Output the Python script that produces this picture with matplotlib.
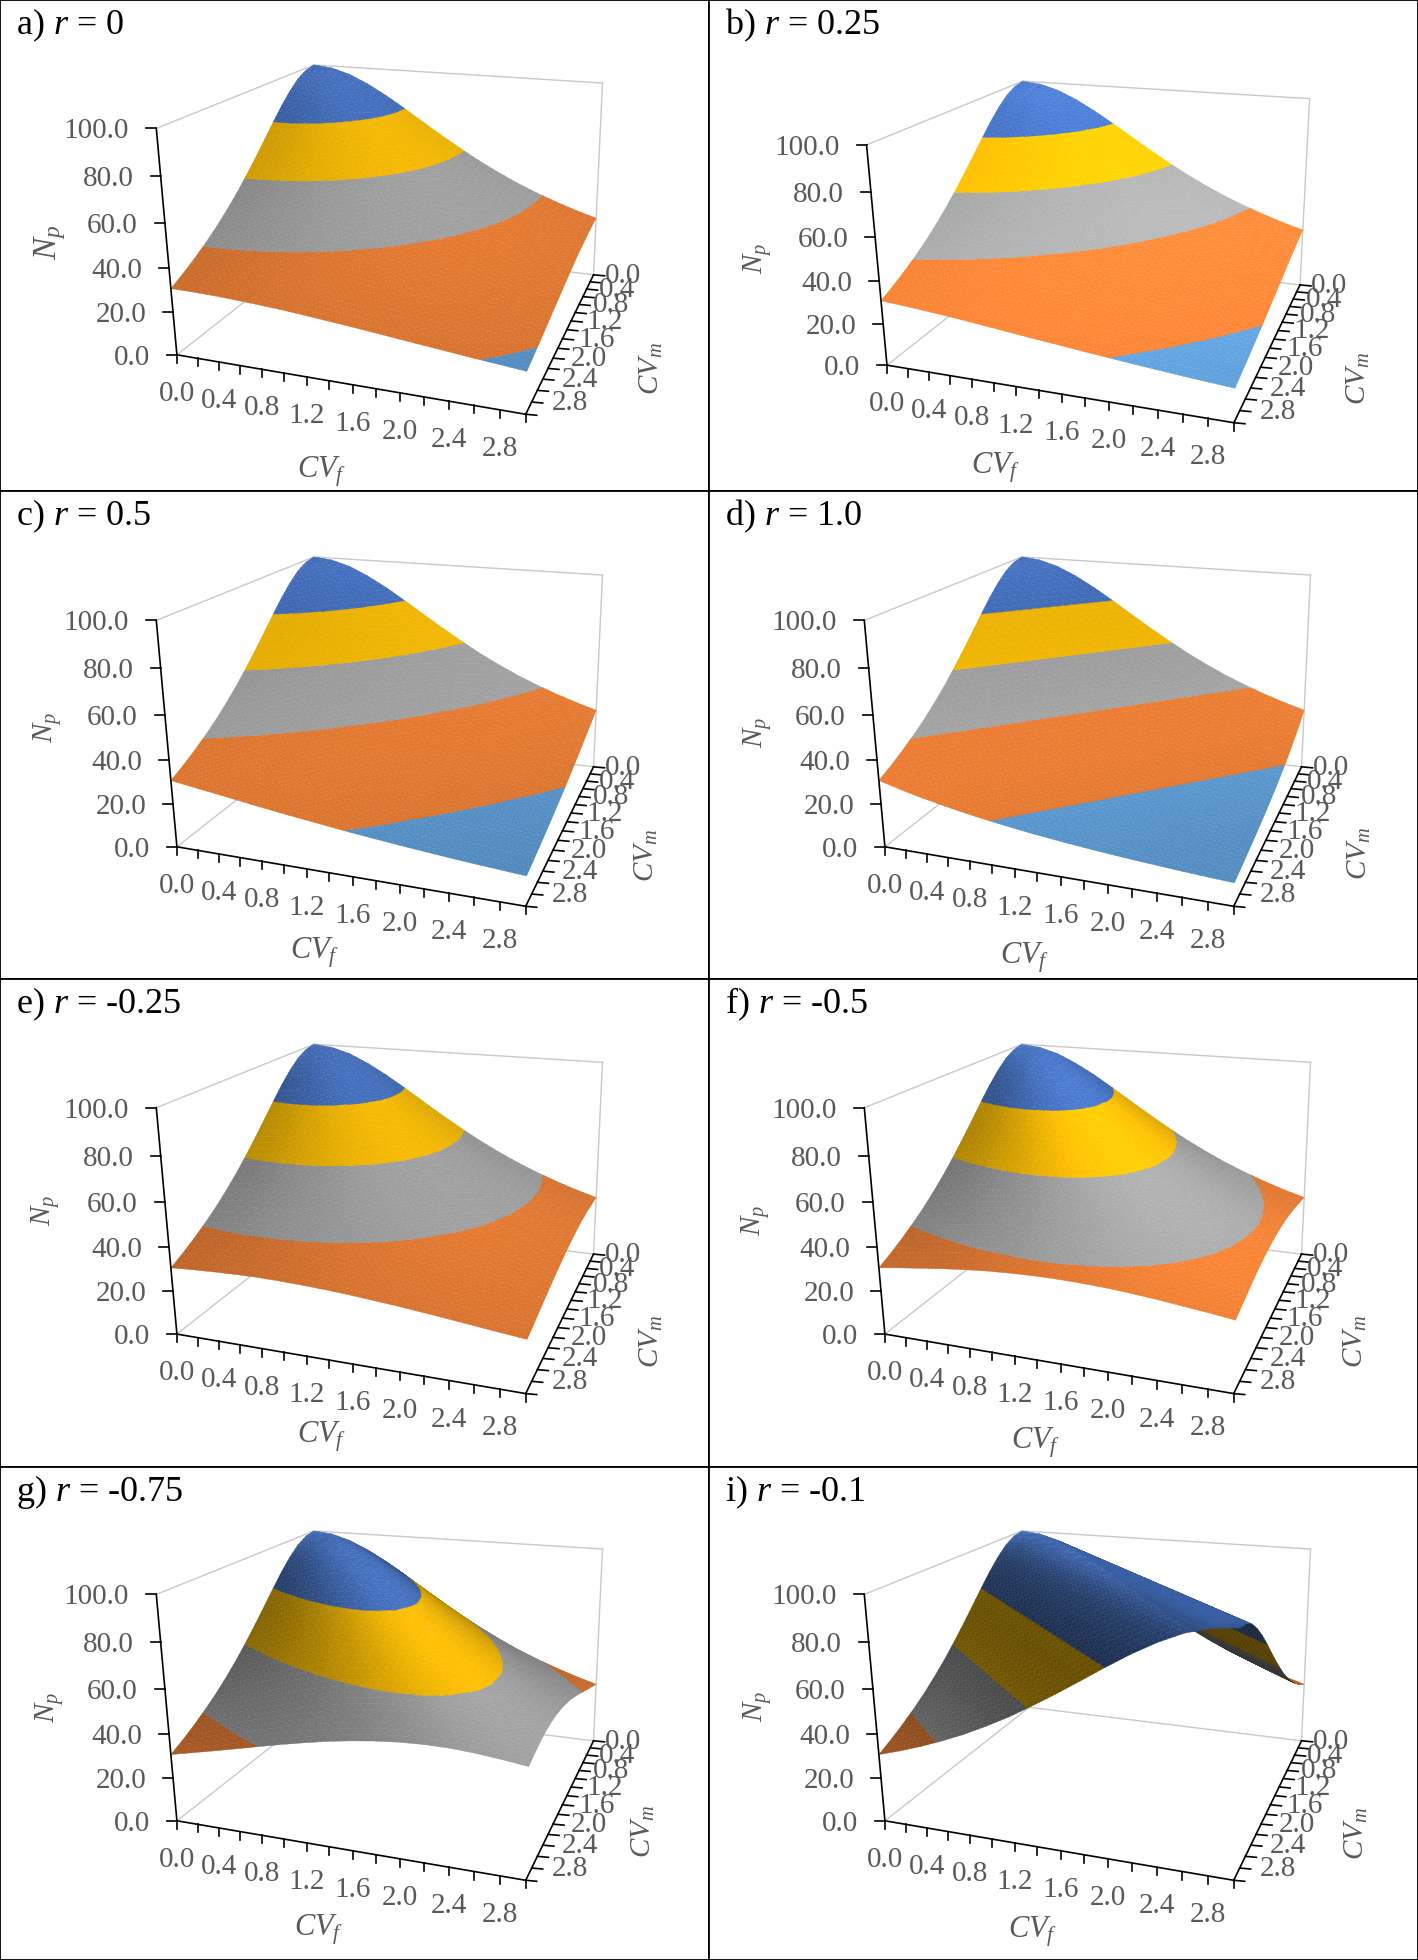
import matplotlib
matplotlib.use("Agg")
import matplotlib.pyplot as plt  # plotting
from matplotlib.collections import PolyCollection
import numpy as np  # for the linear algebra

plt.rcParams['font.family'] = ['Liberation Serif', 'DejaVu Serif']
plt.rcParams['mathtext.fontset'] = 'custom'
plt.rcParams['mathtext.rm'] = 'Liberation Serif'
plt.rcParams['mathtext.it'] = 'Liberation Serif:italic'

#  ---------------------  Data  --------------------------
CV_VALUES = [0.0, 0.2, 0.4, 0.6, 0.8, 1.0, 1.2, 1.4, 1.6, 1.8, 2.0, 2.2, 2.4, 2.6, 2.8, 3.0]
CV_LABELS = ["0.0", "0.4", "0.8", "1.2", "1.6", "2.0", "2.4", "2.8"]
NP_TICKS = [0, 20, 40, 60, 80, 100]
NP_LABELS = ["0.0", "20.0", "40.0", "60.0", "80.0", "100.0"]
BAND_LEVELS = [0, 20, 40, 60, 80, 100]
BAND_COLORS = ["#5B9BD5", "#ED7D31", "#A5A5A5", "#FFC000", "#4472C4"]

# surfaces are symmetric in CVf and CVm, so each row only runs from the diagonal on
NP_A = [
    [100, 99.0, 96.2, 91.7, 86.2, 80.0, 73.5, 67.1, 61.0, 55.2, 50.0, 45.2, 41.0, 37.2, 33.8, 30.8],
    [98.0, 95.2, 90.9, 85.5, 79.4, 73.0, 66.7, 60.6, 54.9, 49.8, 45.0, 40.8, 37.0, 33.7, 30.7],
    [92.6, 88.5, 83.3, 77.5, 71.4, 65.4, 59.5, 54.1, 49.0, 44.4, 40.3, 36.6, 33.3, 30.4],
    [84.7, 80.0, 74.6, 69.0, 63.3, 57.8, 52.6, 47.8, 43.5, 39.5, 36.0, 32.8, 29.9],
    [75.8, 70.9, 65.8, 60.6, 55.6, 50.8, 46.3, 42.2, 38.5, 35.1, 32.1, 29.3],
    [66.7, 62.1, 57.5, 52.9, 48.5, 44.4, 40.7, 37.2, 34.0, 31.2, 28.6],
    [58.1, 54.1, 50.0, 46.1, 42.4, 38.9, 35.7, 32.8, 30.1, 27.7],
    [50.5, 46.9, 43.5, 40.2, 37.0, 34.1, 31.4, 29.0, 26.7],
    [43.9, 40.8, 37.9, 35.1, 32.5, 30.0, 27.8, 25.7],
    [38.2, 35.6, 33.1, 30.8, 28.6, 26.5, 24.6],
    [33.3, 31.2, 29.1, 27.1, 25.3, 23.5],
    [29.2, 27.4, 25.6, 24.0, 22.4],
    [25.8, 24.2, 22.7, 21.3],
    [22.8, 21.5, 20.2],
    [20.3, 19.2],
    [18.2],
]
NP_B = [
    [100, 99.0, 96.2, 91.7, 86.2, 80.0, 73.5, 67.1, 61.0, 55.2, 50.0, 45.2, 41.0, 37.2, 33.8, 30.8],
    [97.6, 94.3, 89.7, 84.0, 77.8, 71.4, 65.1, 59.2, 53.6, 48.5, 44.0, 39.8, 36.2, 32.9, 30.0],
    [90.9, 86.2, 80.6, 74.6, 68.5, 62.5, 56.8, 51.5, 46.7, 42.4, 38.5, 35.0, 31.8, 29.1],
    [81.6, 76.3, 70.7, 64.9, 59.3, 54.1, 49.1, 44.6, 40.6, 36.9, 33.6, 30.7, 28.1],
    [71.4, 66.2, 61.0, 55.9, 51.0, 46.5, 42.4, 38.6, 35.2, 32.2, 29.4, 27.0],
    [61.5, 56.8, 52.2, 47.8, 43.8, 40.0, 36.6, 33.4, 30.6, 28.1, 25.8],
    [52.6, 48.5, 44.6, 41.0, 37.6, 34.5, 31.6, 29.1, 26.7, 24.6],
    [44.9, 41.5, 38.2, 35.2, 32.4, 29.9, 27.5, 25.4, 23.4],
    [38.5, 35.6, 32.9, 30.4, 28.1, 26.0, 24.0, 22.3],
    [33.1, 30.7, 28.4, 26.4, 24.5, 22.7, 21.1],
    [28.6, 26.6, 24.8, 23.0, 21.5, 20.0],
    [24.8, 23.2, 21.7, 20.2, 18.9],
    [21.7, 20.4, 19.1, 17.9],
    [19.1, 18.0, 16.9],
    [16.9, 16.0],
    [15.1],
]
NP_C = [
    [100, 99.0, 96.2, 91.7, 86.2, 80.0, 73.5, 67.1, 61.0, 55.2, 50.0, 45.2, 41.0, 37.2, 33.8, 30.8],
    [97.1, 93.5, 88.5, 82.6, 76.3, 69.9, 63.7, 57.8, 52.4, 47.4, 42.9, 38.9, 35.3, 32.2, 29.3],
    [89.3, 84.0, 78.1, 71.9, 65.8, 59.9, 54.3, 49.3, 44.6, 40.5, 36.8, 33.4, 30.5, 27.9],
    [78.7, 73.0, 67.1, 61.3, 55.9, 50.8, 46.1, 41.8, 38.0, 34.6, 31.5, 28.8, 26.4],
    [67.6, 62.1, 56.8, 51.8, 47.2, 42.9, 39.1, 35.6, 32.5, 29.7, 27.2, 24.9],
    [57.1, 52.4, 47.8, 43.7, 39.8, 36.4, 33.2, 30.4, 27.9, 25.6, 23.5],
    [48.1, 44.1, 40.3, 36.9, 33.8, 31.0, 28.4, 26.1, 24.0, 22.2],
    [40.5, 37.2, 34.1, 31.3, 28.8, 26.5, 24.4, 22.6, 20.9],
    [34.2, 31.5, 29.1, 26.8, 24.8, 22.9, 21.2, 19.6],
    [29.2, 27.0, 24.9, 23.1, 21.4, 19.9, 18.5],
    [25.0, 23.2, 21.6, 20.0, 18.7, 17.4],
    [21.6, 20.1, 18.8, 17.5, 16.4],
    [18.8, 17.6, 16.4, 15.4],
    [16.5, 15.5, 14.5],
    [14.5, 13.7],
    [12.9],
]
NP_D = [
    [100, 99.0, 96.2, 91.7, 86.2, 80.0, 73.5, 67.1, 61.0, 55.2, 50.0, 45.2, 41.0, 37.2, 33.8, 30.8],
    [96.2, 91.7, 86.2, 80.0, 73.5, 67.1, 61.0, 55.2, 50.0, 45.2, 41.0, 37.2, 33.8, 30.8, 28.1],
    [86.2, 80.0, 73.5, 67.1, 61.0, 55.2, 50.0, 45.2, 41.0, 37.2, 33.8, 30.8, 28.1, 25.7],
    [73.5, 67.1, 61.0, 55.2, 50.0, 45.2, 41.0, 37.2, 33.8, 30.8, 28.1, 25.7, 23.6],
    [61.0, 55.2, 50.0, 45.2, 41.0, 37.2, 33.8, 30.8, 28.1, 25.7, 23.6, 21.7],
    [50.0, 45.2, 41.0, 37.2, 33.8, 30.8, 28.1, 25.7, 23.6, 21.7, 20.0],
    [41.0, 37.2, 33.8, 30.8, 28.1, 25.7, 23.6, 21.7, 20.0, 18.5],
    [33.8, 30.8, 28.1, 25.7, 23.6, 21.7, 20.0, 18.5, 17.1],
    [28.1, 25.7, 23.6, 21.7, 20.0, 18.5, 17.1, 15.9],
    [23.6, 21.7, 20.0, 18.5, 17.1, 15.9, 14.8],
    [20.0, 18.5, 17.1, 15.9, 14.8, 13.8],
    [17.1, 15.9, 14.8, 13.8, 12.9],
    [14.8, 13.8, 12.9, 12.1],
    [12.9, 12.1, 11.3],
    [11.3, 10.6],
    [10.0],
]
NP_E = [
    [100, 99.0, 96.2, 91.7, 86.2, 80.0, 73.5, 67.1, 61.0, 55.2, 50.0, 45.2, 41.0, 37.2, 33.8, 30.8],
    [98.5, 96.2, 92.2, 87.0, 81.0, 74.6, 68.3, 62.1, 56.3, 51.0, 46.2, 41.8, 38.0, 34.5, 31.4],
    [94.3, 90.9, 86.2, 80.6, 74.6, 68.5, 62.5, 56.8, 51.5, 46.7, 42.4, 38.5, 35.0, 31.8],
    [88.1, 84.0, 79.1, 73.5, 67.8, 62.1, 56.7, 51.5, 46.8, 42.6, 38.7, 35.2, 32.1],
    [80.6, 76.3, 71.4, 66.2, 61.0, 55.9, 51.0, 46.5, 42.4, 38.6, 35.2, 32.2],
    [72.7, 68.5, 63.9, 59.2, 54.5, 50.0, 45.8, 41.8, 38.2, 35.0, 32.0],
    [64.9, 61.0, 56.8, 52.6, 48.5, 44.6, 41.0, 37.6, 34.5, 31.6],
    [57.6, 54.1, 50.4, 46.7, 43.2, 39.8, 36.7, 33.8, 31.1],
    [51.0, 47.8, 44.6, 41.5, 38.5, 35.6, 32.9, 30.4],
    [45.1, 42.4, 39.6, 36.9, 34.3, 31.8, 29.5],
    [40.0, 37.6, 35.2, 32.9, 30.7, 28.6],
    [35.5, 33.4, 31.4, 29.4, 27.5],
    [31.6, 29.9, 28.1, 26.4],
    [28.3, 26.7, 25.2],
    [25.4, 24.0],
    [22.9],
]
NP_F = [
    [100, 99.0, 96.2, 91.7, 86.2, 80.0, 73.5, 67.1, 61.0, 55.2, 50.0, 45.2, 41.0, 37.2, 33.8, 30.8],
    [99.0, 97.1, 93.5, 88.5, 82.6, 76.3, 69.9, 63.7, 57.8, 52.4, 47.4, 42.9, 38.9, 35.3, 32.2],
    [96.2, 93.5, 89.3, 84.0, 78.1, 71.9, 65.8, 59.9, 54.3, 49.3, 44.6, 40.5, 36.8, 33.4],
    [91.7, 88.5, 84.0, 78.7, 73.0, 67.1, 61.3, 55.9, 50.8, 46.1, 41.8, 38.0, 34.6],
    [86.2, 82.6, 78.1, 73.0, 67.6, 62.1, 56.8, 51.8, 47.2, 42.9, 39.1, 35.6],
    [80.0, 76.3, 71.9, 67.1, 62.1, 57.1, 52.4, 47.8, 43.7, 39.8, 36.4],
    [73.5, 69.9, 65.8, 61.3, 56.8, 52.4, 48.1, 44.1, 40.3, 36.9],
    [67.1, 63.7, 59.9, 55.9, 51.8, 47.8, 44.1, 40.5, 37.2],
    [61.0, 57.8, 54.3, 50.8, 47.2, 43.7, 40.3, 37.2],
    [55.2, 52.4, 49.3, 46.1, 42.9, 39.8, 36.9],
    [50.0, 47.4, 44.6, 41.8, 39.1, 36.4],
    [45.2, 42.9, 40.5, 38.0, 35.6],
    [41.0, 38.9, 36.8, 34.6],
    [37.2, 35.3, 33.4],
    [33.8, 32.2],
    [30.8],
]
NP_G = [
    [100, 99.0, 96.2, 91.7, 86.2, 80.0, 73.5, 67.1, 61.0, 55.2, 50.0, 45.2, 41.0, 37.2, 33.8, 30.8],
    [99.5, 98.0, 94.8, 90.1, 84.4, 78.1, 71.7, 65.4, 59.3, 53.8, 48.7, 44.1, 39.9, 36.2, 33.0],
    [98.0, 96.2, 92.6, 87.7, 82.0, 75.8, 69.4, 63.3, 57.5, 52.1, 47.2, 42.7, 38.8, 35.2],
    [95.7, 93.5, 89.7, 84.7, 79.1, 73.0, 66.9, 61.0, 55.4, 50.3, 45.6, 41.3, 37.5],
    [92.6, 90.1, 86.2, 81.3, 75.8, 69.9, 64.1, 58.5, 53.2, 48.3, 43.9, 39.8],
    [88.9, 86.2, 82.3, 77.5, 72.2, 66.7, 61.2, 55.9, 50.9, 46.3, 42.1],
    [84.7, 82.0, 78.1, 73.5, 68.5, 63.3, 58.1, 53.2, 48.5, 44.2],
    [80.3, 77.5, 73.8, 69.4, 64.7, 59.9, 55.1, 50.5, 46.2],
    [75.8, 73.0, 69.4, 65.4, 61.0, 56.5, 52.1, 47.8],
    [71.2, 68.5, 65.1, 61.3, 57.3, 53.2, 49.1],
    [66.7, 64.1, 61.0, 57.5, 53.8, 50.0],
    [62.3, 59.9, 57.0, 53.8, 50.4],
    [58.1, 55.9, 53.2, 50.3],
    [54.2, 52.1, 49.6],
    [50.5, 48.5],
    [47.1],
]
NP_I = [
    [100, 99.0, 96.2, 91.7, 86.2, 80.0, 73.5, 67.1, 61.0, 55.2, 50.0, 45.2, 41.0, 37.2, 33.8, 30.8],
    [100, 99.0, 96.2, 91.7, 86.2, 80.0, 73.5, 67.1, 61.0, 55.2, 50.0, 45.2, 41.0, 37.2, 33.8],
    [100, 99.0, 96.2, 91.7, 86.2, 80.0, 73.5, 67.1, 61.0, 55.2, 50.0, 45.2, 41.0, 37.2],
    [100, 99.0, 96.2, 91.7, 86.2, 80.0, 73.5, 67.1, 61.0, 55.2, 50.0, 45.2, 41.0],
    [100, 99.0, 96.2, 91.7, 86.2, 80.0, 73.5, 67.1, 61.0, 55.2, 50.0, 45.2],
    [100, 99.0, 96.2, 91.7, 86.2, 80.0, 73.5, 67.1, 61.0, 55.2, 50.0],
    [100, 99.0, 96.2, 91.7, 86.2, 80.0, 73.5, 67.1, 61.0, 55.2],
    [100, 99.0, 96.2, 91.7, 86.2, 80.0, 73.5, 67.1, 61.0],
    [100, 99.0, 96.2, 91.7, 86.2, 80.0, 73.5, 67.1],
    [100, 99.0, 96.2, 91.7, 86.2, 80.0, 73.5],
    [100, 99.0, 96.2, 91.7, 86.2, 80.0],
    [100, 99.0, 96.2, 91.7, 86.2],
    [100, 99.0, 96.2, 91.7],
    [100, 99.0, 96.2],
    [100, 99.0],
    [100],
]

#  ---------------------  Layout  --------------------------
COL_EDGES = [0, 709, 1418]
ROW_EDGES = [0, 491.5, 979.5, 1467, 1960]

# box corners as (CVf, CVm, Np) and where they land, measured on panel a / panel b
BOX_POINTS = [(0, 3, 0), (0, 3, 100), (0, 0, 100), (3, 0, 100), (3, 0, 0), (3, 3, 0), (0, 0, 0)]
PX_SCALE = np.array([2.208, 3.0])  # the crops these were read from were 2.208 x 3 times size
BOX_PX = np.array([(385, 1060), (350, 388), (688, 192), (1332, 250), (1308, 822), (1162, 1245), (715, 728)]) / PX_SCALE
BOX_PX_B = np.array([(390, 1090), (355, 437), (690, 240), (1330, 298), (1305, 850), (1162, 1272), (716, 764)]) / PX_SCALE

PANELS = [
    # title, values, column, row, y offset of box, brightness, Np xy and size, CVf xy, CVm xy
    ("a) $r$ = 0", NP_A, 0, 0, 0, 0.93, (50, 242), 24, (322, 472), (651, 368)),
    ("b) $r$ = 0.25", NP_B, 1, 0, 0, 1.08, (757, 258), 21, (996, 468), (1358, 378)),
    ("c) $r$ = 0.5", NP_C, 0, 1, 492, 0.93, (47.5, 727), 21, (315, 953), (646, 855)),
    ("d) $r$ = 1.0", NP_D, 1, 1, 492, 0.96, (758, 732), 21, (1025, 958), (1359, 853)),
    ("e) $r$ = -0.25", NP_E, 0, 2, 979.3, 0.93, (46, 1210), 21, (322, 1437), (651, 1341)),
    ("f) $r$ = -0.5", NP_F, 1, 2, 979.3, 1.03, (755.5, 1220), 21, (1036, 1443), (1355, 1341)),
    ("g) $r$ = -0.75", NP_G, 0, 3, 1466, 0.97, (49, 1707), 21, (319, 1930), (643, 1831)),
    ("i) $r$ = -0.1", NP_I, 1, 3, 1466, 1.02, (758, 1706), 21, (1033, 1932), (1356, 1833)),
]

TICK_COLOR = "#595959"
BOX_COLOR = "#C9C9C9"
SUBDIV = 3  # shading pieces per triangle edge


def fitProjection(points, pixels):
    # direct linear transform from the box corners to the image
    rows = []
    for (x, y, z), (u, v) in zip(points, pixels):
        p = [x / 3, y / 3, z / 100, 1]
        rows.append(p + [0, 0, 0, 0] + [-u / 500 * c for c in p])
        rows.append([0, 0, 0, 0] + p + [-v / 500 * c for c in p])
    _, _, vt = np.linalg.svd(np.array(rows))
    proj = vt[-1].reshape(3, 4)
    proj[:2] *= 500
    return proj


def project(proj, xyz):
    xyz = np.atleast_2d(np.array(xyz, dtype=float))
    h = np.column_stack([xyz[:, 0] / 3, xyz[:, 1] / 3, xyz[:, 2] / 100, np.ones(len(xyz))])
    uvw = h @ proj.T
    return uvw[:, :2] / uvw[:, 2:]


def fullGrid(rows):
    grid = np.zeros((16, 16))
    for i, row in enumerate(rows):
        grid[i, i:] = row
        grid[i:, i] = row
    return grid


def clipLevel(poly, level, keepAbove):
    out = []
    for k in range(len(poly)):
        p, q = poly[k], poly[(k + 1) % len(poly)]
        pIn = p[2] >= level if keepAbove else p[2] <= level
        qIn = q[2] >= level if keepAbove else q[2] <= level
        if pIn:
            out.append(p)
        if pIn != qIn:
            t = (level - p[2]) / (q[2] - p[2])
            out.append(p + t * (q - p))
    return out


def signedArea(pts):
    x, y = pts[:, 0], pts[:, 1]
    return 0.5 * np.sum(x * np.roll(y, -1) - np.roll(x, -1) * y)


def vertexShades(grid, gain):
    # lighting of the surface at each grid point, box scaled to a unit cube
    dzA, dzB = np.gradient(grid / 100, 1 / 15)
    norm = np.sqrt(dzA ** 2 + dzB ** 2 + 1)
    shade = (0.87 - 0.5 * dzA - 0.3 * dzB) / norm
    return np.clip(shade, 0.3, 1.3) * gain


def isBackFacing(proj, tri):
    flat = tri.copy()
    flat[:, 2] = 0
    return signedArea(project(proj, tri)) * signedArea(project(proj, flat)) < 0


def subTriangles(tri, shades):
    # same flat triangle, cut up only so that the shade can vary smoothly over it
    pieces = []
    n = SUBDIV
    w = lambda i, j: np.array([i, j, n - i - j]) / n
    for i in range(n):
        for j in range(n - i):
            weights = [w(i, j), w(i + 1, j), w(i, j + 1)]
            pieces.append(weights)
            if i + j < n - 1:
                pieces.append([w(i + 1, j), w(i + 1, j + 1), w(i, j + 1)])
    out = []
    for weights in pieces:
        pts = np.array([wt @ tri for wt in weights])
        out.append((pts, float(np.mean([wt @ shades for wt in weights]))))
    return out


def surfacePolygons(proj, grid, gain):
    cv = np.array(CV_VALUES)
    shades = vertexShades(grid, gain)
    rgbBase = [np.array(matplotlib.colors.to_rgb(c)) for c in BAND_COLORS]
    # camera position, used to paint the far cells first
    cam = np.linalg.svd(proj)[2][-1]
    camXY = cam[:2] / cam[3] * 3
    items = []
    for i in range(15):
        for j in range(15):
            c00 = (i, j)
            c10 = (i + 1, j)
            c01 = (i, j + 1)
            c11 = (i + 1, j + 1)
            if abs(grid[c00] - grid[c11]) < abs(grid[c01] - grid[c10]):
                tris = [(c00, c10, c11), (c00, c11, c01)]
            else:
                tris = [(c00, c10, c01), (c10, c11, c01)]
            for ids in tris:
                tri = np.array([[cv[a], cv[b], grid[a, b]] for a, b in ids])
                triShade = np.array([shades[k] for k in ids])
                if isBackFacing(proj, tri):
                    # seen from below: the underside is dark
                    triShade = np.full(3, 0.32)
                dist = np.hypot(*(tri[:, :2].mean(axis=0) - camXY))
                for pts, shade in subTriangles(tri, triShade):
                    lo, hi = pts[:, 2].min(), pts[:, 2].max()
                    for b in range(5):
                        if hi < BAND_LEVELS[b] or lo > BAND_LEVELS[b + 1]:
                            continue
                        poly = list(pts)
                        if lo < BAND_LEVELS[b]:
                            poly = clipLevel(poly, BAND_LEVELS[b], True)
                        if hi > BAND_LEVELS[b + 1] and len(poly) >= 3:
                            poly = clipLevel(poly, BAND_LEVELS[b + 1], False)
                        if len(poly) < 3:
                            continue
                        rgb = np.clip(rgbBase[b] * shade, 0, 1)
                        items.append((dist, np.array(poly), tuple(rgb)))
    items.sort(key=lambda item: -item[0])
    return [project(proj, it[1]) for it in items], [it[2] for it in items]


def drawPanel(fig, panel):
    title, rows, col, row, offY, gain, npXY, npSize, cvfXY, cvmXY = panel
    x0, x1 = COL_EDGES[col], COL_EDGES[col + 1]
    y0, y1 = ROW_EDGES[row], ROW_EDGES[row + 1]
    ax = fig.add_axes([x0 / 1418, 1 - y1 / 1960, (x1 - x0) / 1418, (y1 - y0) / 1960])
    ax.set_xlim(x0, x1)
    ax.set_ylim(y1, y0)
    ax.set_xticks([])
    ax.set_yticks([])
    for spine in ax.spines.values():
        spine.set_linewidth(1.3)

    pixels = (BOX_PX_B if row == 0 and col == 1 else BOX_PX) + np.array([COL_EDGES[col] - (1 if col else 0), offY])
    proj = fitProjection(BOX_POINTS, pixels)

    # light grey back walls and floor
    for a, b in [((0, 3, 100), (0, 0, 100)), ((0, 0, 100), (3, 0, 100)), ((3, 0, 100), (3, 0, 0)),
                 ((0, 3, 0), (0, 0, 0)), ((0, 0, 0), (3, 0, 0)), ((0, 0, 0), (0, 0, 100))]:
        uv = project(proj, [a, b])
        ax.plot(uv[:, 0], uv[:, 1], color=BOX_COLOR, lw=1.0, zorder=1)

    polys, colors = surfacePolygons(proj, fullGrid(rows), gain)
    ax.add_collection(PolyCollection(polys, facecolors=colors, edgecolors=colors, linewidths=0.25, zorder=2))

    # black axes with their ticks
    for a, b in [((0, 3, 0), (0, 3, 100)), ((0, 3, 0), (3, 3, 0)), ((3, 3, 0), (3, 0, 0))]:
        uv = project(proj, [a, b])
        ax.plot(uv[:, 0], uv[:, 1], color="black", lw=1.2, zorder=3, solid_capstyle='projecting')
    for z, label in zip(NP_TICKS, NP_LABELS):
        u, v = project(proj, (0, 3, z))[0]
        ax.plot([u, u - 10], [v, v], color="black", lw=1.2, zorder=3)
        ax.text(u - 27, v + 3, label, ha='right', va='center', fontsize=21, color=TICK_COLOR, zorder=4)
    for i, cv in enumerate(CV_VALUES):
        u, v = project(proj, (cv, 3, 0))[0]
        ax.plot([u, u], [v, v + 8], color="black", lw=1.2, zorder=3)
        if i % 2 == 0:
            ax.text(u, v + 39, CV_LABELS[i // 2], ha='center', va='center', fontsize=21, color=TICK_COLOR, zorder=4)
        u, v = project(proj, (3, cv, 0))[0]
        ax.plot([u, u + 11], [v, v + 1], color="black", lw=1.2, zorder=3)
        if i % 2 == 0:
            ax.text(u + 29 + 3.4 * cv, v + 1, CV_LABELS[i // 2], ha='center', va='center', fontsize=21,
                    color=TICK_COLOR, zorder=4)

    ax.text(x0 + 16, y0 + 34, title, ha='left', va='baseline', fontsize=26, color="black", zorder=5)
    ax.text(npXY[0], npXY[1], "$N_p$", rotation=90, ha='center', va='center', fontsize=npSize,
            color=TICK_COLOR, zorder=5)
    ax.text(cvfXY[0], cvfXY[1], "$CV_f$", ha='center', va='center', fontsize=22, color=TICK_COLOR, zorder=5)
    ax.text(cvmXY[0], cvmXY[1], "$CV_m$", rotation=90, ha='center', va='center', fontsize=21, color=TICK_COLOR, zorder=5)


fig = plt.figure(figsize=(14.18, 19.6), dpi=100)
for panel in PANELS:
    drawPanel(fig, panel)
fig.savefig("out.png", dpi=100)
